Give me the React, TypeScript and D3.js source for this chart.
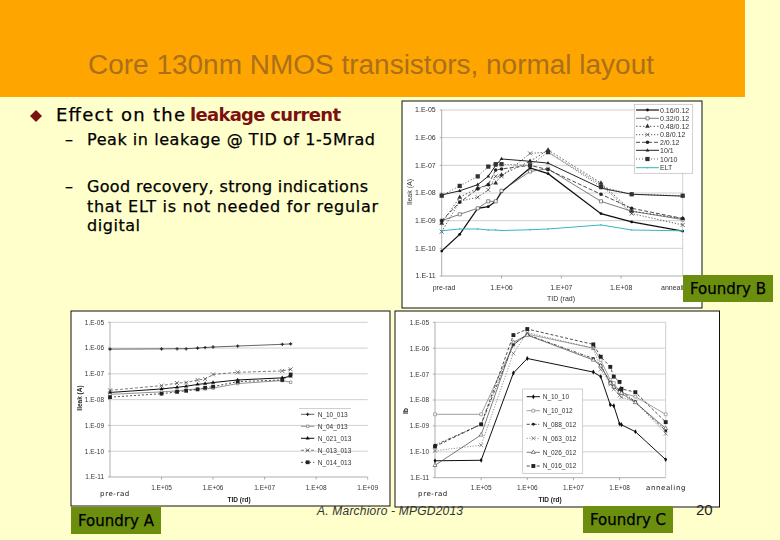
import React from "react";
import * as d3 from "d3";

const titleText = "Core 130nm NMOS transistors, normal layout";

// y axis, shared by all three plots
const yTicks = [1e-5, 1e-6, 1e-7, 1e-8, 1e-9, 1e-10, 1e-11];
const yTickLabels = ["1.E-05", "1.E-06", "1.E-07", "1.E-08", "1.E-09", "1.E-10", "1.E-11"];

// Foundry B
const tidB = [1e5, 2e5, 4e5, 6e5, 8e5, 1e6, 3e6, 6e6, 4.6e7, 1.5e8, 1.07e9];
const namesB = ["0.16/0.12", "0.32/0.12", "0.48/0.12", "0.8/0.12", "2/0.12", "10/1", "10/10", "ELT"];
const b016 = [8e-11, 3.2e-10, 2.8e-9, 3.2e-9, 5e-9, 1.1e-8, 8e-8, 5e-8, 1.8e-9, 9e-10, 4.2e-10];
const b032 = [1e-9, 1.7e-9, 2.8e-9, 5e-9, 5e-9, 1.2e-8, 6e-8, 7.5e-8, 5e-9, 2.2e-9, 1.1e-9];
const b048 = [8e-10, 7e-9, 1.5e-8, 2e-8, 2.3e-8, 4.5e-8, 1.4e-7, 3.6e-7, 2.3e-8, 2.2e-9, 1.2e-9];
const b08 = [4e-10, 5e-9, 7e-9, 1.3e-8, 4e-8, 4e-8, 2.7e-7, 3e-7, 2e-8, 1.8e-9, 7e-10];
const b2 = [1e-9, 4.6e-9, 1.4e-8, 2e-8, 6.8e-8, 7.4e-8, 1e-7, 7e-8, 9e-9, 2.8e-9, 1.2e-9];
const b10_1 = [8.5e-9, 1.2e-8, 2e-8, 4e-8, 1e-7, 1.7e-7, 1.4e-7, 1.2e-7, 1.5e-8, 9e-9, 7.7e-9];
const b10_10 = [8e-9, 1.8e-8, 4e-8, 9e-8, 1.1e-7, 1.1e-7, 1e-7, 3e-7, 1.7e-8, 9e-9, 8e-9];
const bElt = [4.3e-10, 5e-10, 5e-10, 4.6e-10, 4.6e-10, 4.4e-10, 4.7e-10, 5e-10, 7e-10, 4.6e-10, 4.3e-10];

// Foundry A
const tidA = [1e4, 1e5, 2e5, 3e5, 5e5, 7e5, 1e6, 3e6, 2.2e7, 3.2e7];
const namesA = ["N_10_013", "N_04_013", "N_021_013", "N_013_013", "N_014_013"];
const a10 = [9.1e-7, 9.3e-7, 9.4e-7, 9.4e-7, 1e-6, 1.05e-6, 1.1e-6, 1.2e-6, 1.4e-6, 1.45e-6];
const a04 = [1.6e-8, 2e-8, 2.2e-8, 2.4e-8, 2.6e-8, 2.6e-8, 2.8e-8, 4.2e-8, 5.5e-8, 4.7e-8];
const a021 = [1.9e-8, 2.6e-8, 3e-8, 3.3e-8, 3.9e-8, 4.2e-8, 4.6e-8, 5.8e-8, 7e-8, 8e-8];
const a013 = [2.3e-8, 3.5e-8, 4.4e-8, 4.6e-8, 5.8e-8, 6.3e-8, 9.5e-8, 1.15e-7, 1.3e-7, 1.5e-7];
const a014 = [1.25e-8, 1.7e-8, 2e-8, 2.2e-8, 2.5e-8, 2.9e-8, 3.2e-8, 5e-8, 5.8e-8, 9.5e-8];

// Foundry C
const tidC = [1e4, 1e5, 5e5, 1e6, 2.7e7, 3.9e7, 6.3e7, 7.5e7, 1e8, 1.1e8, 2.2e8, 1e9];
const namesC = ["N_10_10", "N_10_012", "N_088_012", "N_063_012", "N_026_012", "N_016_012"];
const c10 = [4.5e-11, 4.7e-11, 1.1e-7, 4e-7, 1.2e-7, 8e-8, 6.5e-9, 6e-9, 1.2e-9, 1.1e-9, 6e-10, 5e-11];
const c10b = [2.8e-9, 2.8e-9, 1.35e-6, 3.5e-6, 1e-6, 3.5e-7, 6e-8, 4.5e-8, 2.1e-8, 1.9e-8, 1.35e-8, 2.8e-9];
const c088 = [1.8e-10, 1.15e-9, 1.4e-6, 3.3e-6, 4e-7, 2.2e-7, 4.8e-8, 3.2e-8, 2.5e-8, 2.2e-8, 8.5e-9, 6.5e-10];
const c063 = [1.1e-10, 1.8e-10, 6.3e-7, 4e-6, 1e-6, 1.5e-7, 4e-8, 2.6e-8, 1.5e-8, 1.3e-8, 8.5e-9, 5e-10];
const c026 = [3e-11, 4.5e-10, 1.7e-6, 3.2e-6, 3.5e-7, 2.1e-7, 4.5e-8, 3.2e-8, 2e-8, 1.8e-8, 8e-9, 8e-10];
const c016 = [1.6e-10, 1.15e-9, 3.2e-6, 5.5e-6, 1.4e-6, 4.7e-7, 1.9e-7, 8e-8, 5e-8, 2.7e-8, 2e-8, 1.4e-9];

type LineStyle = { color: string; width: number; dash?: string; marker: d3.SymbolType | "x"; size: number; open?: boolean };

const stylesB: LineStyle[] = [
  { color: "#111", width: 1.2, marker: d3.symbolCircle, size: 6 },
  { color: "#444", width: 0.7, marker: d3.symbolSquare, size: 10, open: true },
  { color: "#333", width: 0.8, dash: "1.5 2", marker: d3.symbolTriangle, size: 10 },
  { color: "#333", width: 0.8, dash: "1.2 1.8", marker: "x", size: 2 },
  { color: "#222", width: 0.8, dash: "4 2", marker: d3.symbolCircle, size: 10 },
  { color: "#222", width: 1, marker: d3.symbolTriangle, size: 6 },
  { color: "#333", width: 0.8, dash: "1 2", marker: d3.symbolSquare, size: 18 },
  { color: "#37b7bd", width: 1, marker: d3.symbolCircle, size: 2 },
];
const stylesA: LineStyle[] = [
  { color: "#222", width: 0.7, marker: d3.symbolCross, size: 6 },
  { color: "#666", width: 0.7, marker: d3.symbolSquare, size: 6, open: true },
  { color: "#111", width: 1, marker: d3.symbolTriangle, size: 7 },
  { color: "#444", width: 0.7, dash: "3 2", marker: "x", size: 2 },
  { color: "#222", width: 0.8, dash: "2 2", marker: d3.symbolSquare, size: 14 },
];
const stylesC: LineStyle[] = [
  { color: "#111", width: 1, marker: d3.symbolDiamond, size: 7 },
  { color: "#777", width: 0.7, marker: d3.symbolSquare, size: 8, open: true },
  { color: "#222", width: 0.8, dash: "3 1.5 1 1.5", marker: d3.symbolCircle, size: 7 },
  { color: "#666", width: 0.7, dash: "1.2 1.5", marker: "x", size: 2 },
  { color: "#444", width: 0.7, marker: d3.symbolTriangle, size: 7, open: true },
  { color: "#222", width: 0.8, dash: "3 2", marker: d3.symbolSquare, size: 15 },
];

const sans = "Liberation Sans, Arial, sans-serif";
const comic = "DejaVu Sans, sans-serif";

function Marker({ s, x, y }: { s: LineStyle; x: number; y: number }) {
  if (s.marker === "x") {
    const r = s.size;
    return <path d={`M${x - r},${y - r}L${x + r},${y + r}M${x - r},${y + r}L${x + r},${y - r}`} stroke={s.color} strokeWidth={0.7} fill="none" />;
  }
  const d = d3.symbol(s.marker, s.size)() as string;
  return <path transform={`translate(${x},${y})`} d={d} fill={s.open ? "#fff" : s.color} stroke={s.open ? s.color : "none"} strokeWidth={0.6} />;
}

type PlotProps = {
  box: [number, number, number, number];
  plot: [number, number, number, number];
  xDomain: [number, number];
  tid: number[];
  series: number[][];
  styles: LineStyle[];
  xTicks: { v: number; label: string }[];
  tickSize: number;
  labelY: number;
  rightEdge?: boolean;
  children?: React.ReactNode;
};

function Plot({ box, plot, xDomain, tid, series, styles, xTicks, tickSize, labelY, rightEdge, children }: PlotProps) {
  const [bx0, by0, bx1, by1] = box;
  const [x0, y0, x1, y1] = plot;
  const x = d3.scaleLog().domain(xDomain).range([x0, x1]);
  const y = d3.scaleLog().domain([1e-11, 1e-5]).range([y1, y0]);
  const line = d3.line<number>().x((_, i) => x(tid[i])).y((v) => y(v));
  return (
    <g>
      <rect x={bx0} y={by0} width={bx1 - bx0} height={by1 - by0} fill="#fff" stroke="#111" strokeWidth={1} />
      <g filter="url(#soft)">
        {yTicks.map((t, i) => (
          <g key={t}>
            <line x1={x0} x2={x1} y1={y(t)} y2={y(t)} stroke={i === yTicks.length - 1 ? "#999" : "#c4c4c4"} strokeWidth={0.8} />
            <line x1={x0 - 2} x2={x0} y1={y(t)} y2={y(t)} stroke="#888" strokeWidth={0.7} />
            <text x={x0 - 6} y={y(t) + 2.4} textAnchor="end" fontFamily={sans} fontSize={tickSize} fill="#333">{yTickLabels[i]}</text>
          </g>
        ))}
        <line x1={x0} x2={x0} y1={y0} y2={y1} stroke="#999" strokeWidth={0.8} />
        {rightEdge && <line x1={x1} x2={x1} y1={y0} y2={y1} stroke="#c4c4c4" strokeWidth={0.8} />}
        {xTicks.map((t) => (
          <g key={t.label}>
            <line x1={x(t.v)} x2={x(t.v)} y1={y1} y2={y1 + 2.5} stroke="#888" strokeWidth={0.7} />
            <text x={x(t.v)} y={labelY} textAnchor="middle" fontFamily={sans} fontSize={tickSize} fill="#333">{t.label}</text>
          </g>
        ))}
        {series.map((vals, i) => (
          <g key={i}>
            <path d={line(vals) as string} fill="none" stroke={styles[i].color} strokeWidth={styles[i].width} strokeDasharray={styles[i].dash} />
            {vals.map((v, j) => <Marker key={j} s={styles[i]} x={x(tid[j])} y={y(v)} />)}
          </g>
        ))}
        {children}
      </g>
    </g>
  );
}

function LegendRows({ names, styles, rows, x0, x1, tx, size }: { names: string[]; styles: LineStyle[]; rows: number[]; x0: number; x1: number; tx: number; size: number }) {
  return (
    <g>
      {names.map((n, i) => (
        <g key={n}>
          <line x1={x0} x2={x1} y1={rows[i]} y2={rows[i]} stroke={styles[i].color} strokeWidth={styles[i].width} strokeDasharray={styles[i].dash} />
          <Marker s={styles[i]} x={(x0 + x1) / 2} y={rows[i]} />
          <text x={tx} y={rows[i] + size * 0.36} fontFamily={sans} fontSize={size} fill="#333">{n}</text>
        </g>
      ))}
    </g>
  );
}

function Foundry({ x, y, label }: { x: number; y: number; label: string }) {
  return (
    <g>
      <rect x={x} y={y} width={90} height={27} fill="#6b8e0f" />
      <text x={x + 7} y={y + 19} fontFamily={comic} fontSize={15} fill="#000" stroke="#000" strokeWidth={0.25} textLength={76} lengthAdjust="spacingAndGlyphs">{label}</text>
    </g>
  );
}

function Spaced({ x, y, w, children, size, fill = "#000", weight }: { x: number; y: number; w: number; children: React.ReactNode; size: number; fill?: string; weight?: string }) {
  return <text x={x} y={y} fontFamily={comic} fontSize={size} fill={fill} stroke={weight ? undefined : fill} strokeWidth={weight ? undefined : 0.25} fontWeight={weight} textLength={w} lengthAdjust="spacing">{children}</text>;
}

export default function App() {
  const seriesB = [b016, b032, b048, b08, b2, b10_1, b10_10, bElt];
  const seriesA = [a10, a04, a021, a013, a014];
  const seriesC = [c10, c10b, c088, c063, c026, c016];
  return (
    <svg width={780} height={540} style={{ position: "absolute", left: 0, top: 0 }}>
      <defs>
        <filter id="soft" x="-5%" y="-5%" width="110%" height="110%">
          <feGaussianBlur stdDeviation="0.3" />
        </filter>
      </defs>
      <rect width={780} height={540} fill="#ffffcc" />
      <rect width={745} height={97} fill="#ffa500" />
      <text x={88} y={74} fontFamily={sans} fontSize={27} fill="#a8701c" textLength={566} lengthAdjust="spacingAndGlyphs">{titleText}</text>

      <path d="M36,110L42,116L36,122L30,116Z" fill="#7a1010" />
      <Spaced x={56} y={120.5} w={129} size={18}>Effect on the</Spaced>
      <Spaced x={190} y={120.5} w={151} size={18} fill="#7a1010" weight="bold">leakage current</Spaced>
      <Spaced x={65} y={145} w={8} size={16}>–</Spaced>
      <Spaced x={87} y={145} w={288} size={16}>Peak in leakage @ TID of 1-5Mrad</Spaced>
      <Spaced x={65} y={192} w={8} size={16}>–</Spaced>
      <Spaced x={87} y={192} w={281} size={16}>Good recovery, strong indications</Spaced>
      <Spaced x={87} y={212} w={291} size={16}>that ELT is not needed for regular</Spaced>
      <Spaced x={87} y={231} w={53} size={16}>digital</Spaced>

      {/* Foundry B */}
      <Plot
        box={[402, 101, 702, 308]}
        plot={[441.7, 110, 682.7, 276]}
        xDomain={[1e5, 1.07e9]}
        tid={tidB}
        series={seriesB}
        styles={stylesB}
        xTicks={[
          { v: 1e6, label: "1.E+06" },
          { v: 1e7, label: "1.E+07" },
          { v: 1e8, label: "1.E+08" },
        ]}
        tickSize={7}
        labelY={290}
        rightEdge
      >
        <text x={444} y={290} textAnchor="middle" fontFamily={sans} fontSize={7} fill="#333">pre-rad</text>
        <text x={661} y={290} fontFamily={sans} fontSize={7} fill="#333">annealing</text>
        <text x={561} y={301} textAnchor="middle" fontFamily={sans} fontSize={7} fill="#333">TID (rad)</text>
        <text transform="translate(412,192) rotate(-90)" textAnchor="middle" fontFamily={sans} fontSize={7} fill="#333">Ileak (A)</text>
        <rect x={634.3} y={104.3} width={58.4} height={69} fill="#fff" stroke="#bbb" strokeWidth={0.7} />
        <LegendRows names={namesB} styles={stylesB} rows={[110, 118.3, 126.3, 134.7, 142.3, 150.3, 159, 167.7]} x0={636} x1={659} tx={660} size={7} />
      </Plot>

      {/* Foundry A */}
      <Plot
        box={[71, 311, 390, 506]}
        plot={[110, 322.3, 367.7, 477]}
        xDomain={[1e4, 1e9]}
        tid={tidA}
        series={seriesA}
        styles={stylesA}
        xTicks={[
          { v: 1e5, label: "1.E+05" },
          { v: 1e6, label: "1.E+06" },
          { v: 1e7, label: "1.E+07" },
          { v: 1e8, label: "1.E+08" },
          { v: 1e9, label: "1.E+09" },
        ]}
        tickSize={6.5}
        labelY={490}
      >
        <text x={115} y={496} textAnchor="middle" fontFamily={comic} fontSize={7} fill="#111" letterSpacing={0.6}>pre-rad</text>
        <text x={239} y={501.5} textAnchor="middle" fontFamily={sans} fontSize={6.5} fontWeight="bold" fill="#222">TID (rd)</text>
        <text transform="translate(82,398) rotate(-90)" textAnchor="middle" fontFamily={sans} fontSize={6.5} fontWeight="bold" fill="#222">Ileak (A)</text>
        <line x1={299} x2={351} y1={408.5} y2={408.5} stroke="#bbb" strokeWidth={0.7} />
        <LegendRows names={namesA} styles={stylesA} rows={[414.3, 426.3, 438.3, 450.3, 462.3]} x0={301} x1={314.3} tx={317.7} size={6.5} />
      </Plot>

      {/* Foundry C */}
      <Plot
        box={[395, 311, 719.5, 507]}
        plot={[435, 322.3, 665.7, 477.7]}
        xDomain={[1e4, 1e9]}
        tid={tidC}
        series={seriesC}
        styles={stylesC}
        xTicks={[
          { v: 1e5, label: "1.E+05" },
          { v: 1e6, label: "1.E+06" },
          { v: 1e7, label: "1.E+07" },
          { v: 1e8, label: "1.E+08" },
        ]}
        tickSize={6.5}
        labelY={490}
        rightEdge
      >
        <text x={433} y={495.7} textAnchor="middle" fontFamily={comic} fontSize={7} fill="#111" letterSpacing={0.6}>pre-rad</text>
        <text x={666} y={490} textAnchor="middle" fontFamily={comic} fontSize={7} fill="#111" letterSpacing={0.6}>annealing</text>
        <text x={550} y={501.5} textAnchor="middle" fontFamily={sans} fontSize={6.5} fontWeight="bold" fill="#222">TID (rd)</text>
        <text transform="translate(408,411) rotate(-90)" textAnchor="middle" fontFamily={sans} fontSize={7} fontWeight="bold" fill="#222">Ib</text>
        <rect x={522.7} y={389} width={60} height={84.3} fill="#fff" stroke="#bbb" strokeWidth={0.7} />
        <LegendRows names={namesC} styles={stylesC} rows={[396.7, 410.7, 424.3, 438.3, 452.3, 466]} x0={526.7} x1={540} tx={542.7} size={6.5} />
      </Plot>

      <Foundry x={683} y={275} label="Foundry B" />
      <Foundry x={71} y={507} label="Foundry A" />
      <Foundry x={583} y={506} label="Foundry C" />

      <text x={317} y={514.5} fontFamily={sans} fontSize={12} fontStyle="italic" fill="#333" textLength={146} lengthAdjust="spacing">A. Marchioro - MPGD2013</text>
      <text x={696} y={515} fontFamily={sans} fontSize={15} fill="#222">20</text>
    </svg>
  );
}
